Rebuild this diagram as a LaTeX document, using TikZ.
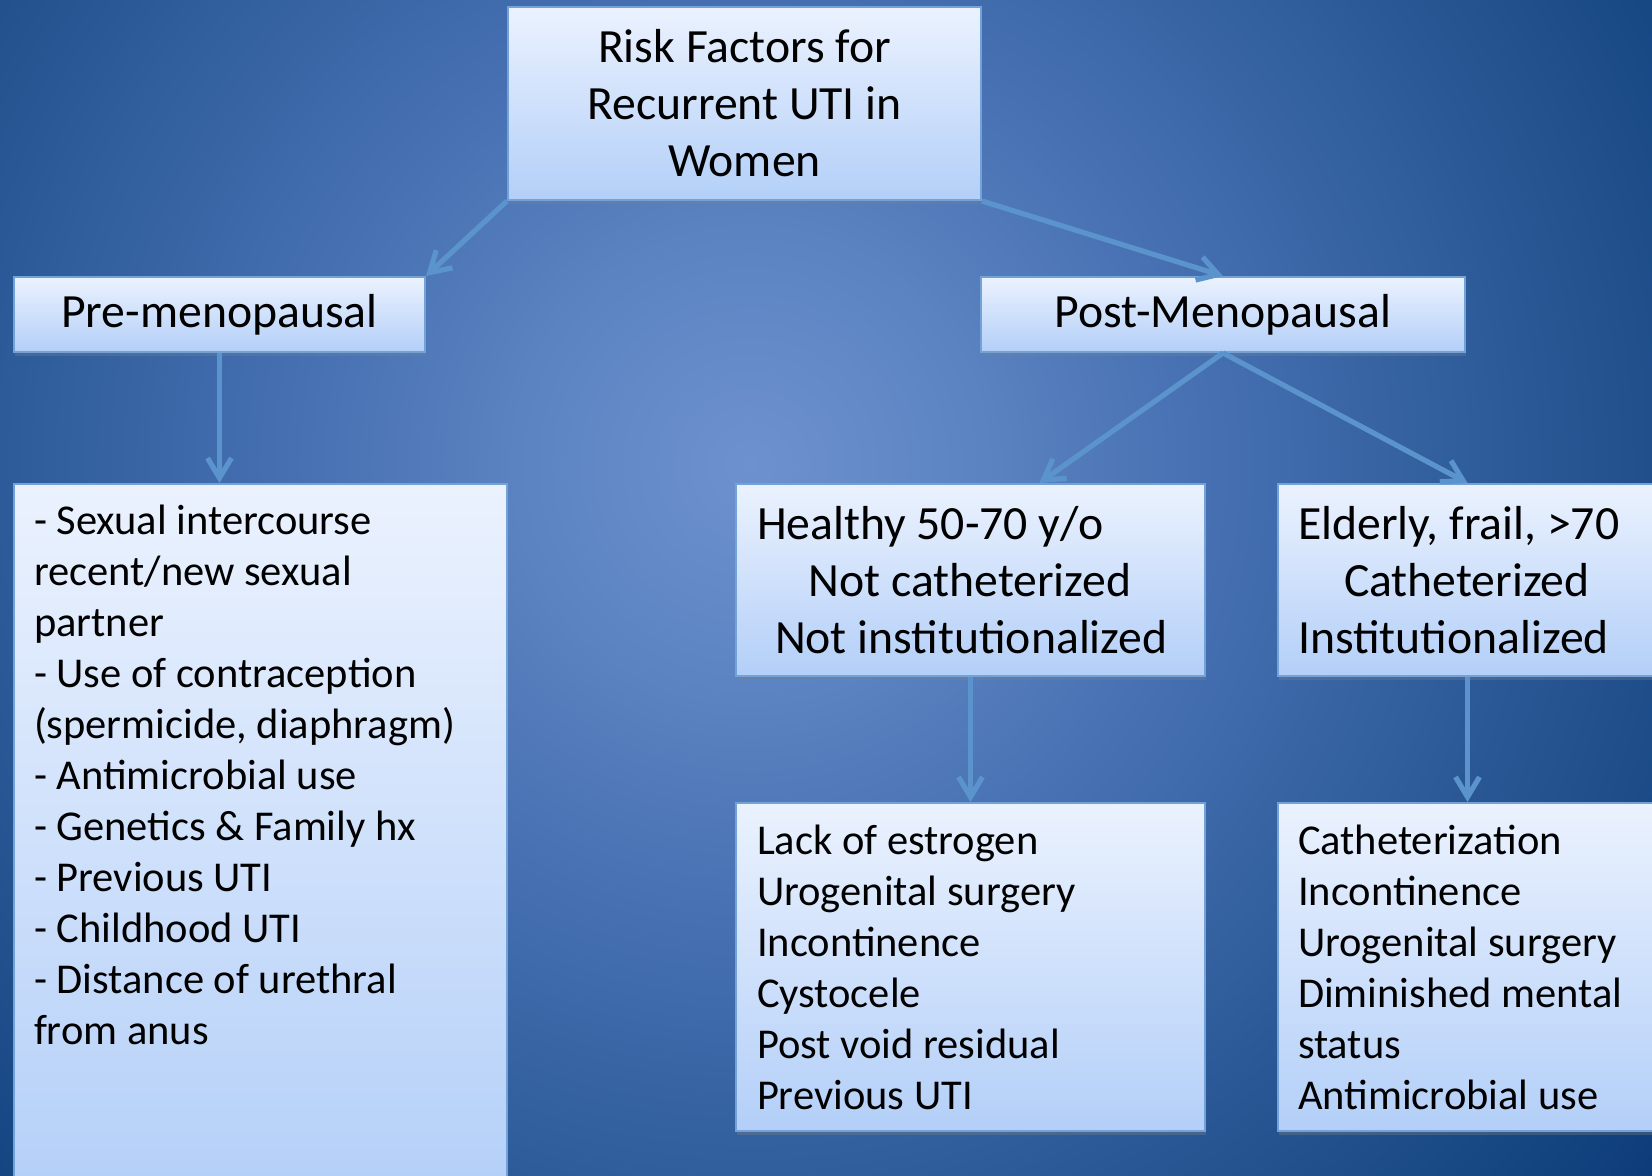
\documentclass[tikz,border=0pt]{standalone}
\usepackage{fontspec}
\setmainfont{Carlito}
\usetikzlibrary{arrows.meta,shadows,calc}
\definecolor{bgA}{HTML}{6D91CE}
\definecolor{bgB}{HTML}{5E85C3}
\definecolor{bgC}{HTML}{4670B2}
\definecolor{bgD}{HTML}{23528F}
\definecolor{bgE}{HTML}{12437F}
\definecolor{bgF}{HTML}{0A3676}
\definecolor{boxtop}{HTML}{EBF2FE}
\definecolor{boxbot}{HTML}{B3CFF8}
\definecolor{boxline}{HTML}{73A2D9}
\definecolor{arrcol}{HTML}{5B94CC}
\pgfdeclareradialshading{bgshade}{\pgfpoint{0bp}{0bp}}{color(0bp)=(bgA); color(4.25bp)=(bgB); color(9.5bp)=(bgC); color(18bp)=(bgD); color(22.25bp)=(bgE); color(25bp)=(bgF); color(50bp)=(bgF)}
\newcommand\BigTxt{\fontsize{23.85pt}{28.5pt}\selectfont}
\newcommand\MedTxt{\fontsize{21.25pt}{25.5pt}\selectfont}
\begin{document}
\begin{tikzpicture}[x=0.5pt,y=-0.5pt,
  box/.style={draw=boxline, line width=1pt, top color=boxtop, bottom color=boxbot,
    drop shadow={shadow xshift=0.6pt, shadow yshift=-1.8pt, opacity=0.35},
    inner sep=0pt, anchor=north west, text=black},
  conn/.style={draw=arrcol, line width=2.6pt, -{Straight Barb[length=10pt,width=12pt]}}]
\useasboundingbox (0,0) rectangle (1652,1175);
\begin{scope}
\clip (0,0) rectangle (1652,1175);
\shade[shading=bgshade] (750,465) circle (600pt);
\end{scope}

\node[box, minimum width=236.5pt, minimum height=96.5pt, align=center, font=\BigTxt] (top) at (507,6)
  {Risk Factors for\\Recurrent UTI in\\Women};
\node[box, minimum width=205.5pt, minimum height=37.5pt, font=\BigTxt] (pre) at (13,276) {Pre-menopausal};
\node[box, minimum width=242pt, minimum height=37.5pt, font=\BigTxt] (post) at (980,276) {Post-Menopausal};

\node[box, inner xsep=10pt, inner ysep=0pt, font=\MedTxt] (risks) at (13,483)
  {\parbox[t][360pt][t]{226.5pt}{\raggedright\rule{0pt}{25pt}- Sexual intercourse\\
   recent/new sexual\\ partner\\ - Use of contraception\\ (spermicide, diaphragm)\\
   - Antimicrobial use\\ - Genetics \& Family hx\\ - Previous UTI\\ - Childhood UTI\\
   - Distance of urethral\\ from anus}};

\node[box, inner xsep=10.5pt, minimum height=96pt, font=\BigTxt] (healthy) at (735,483)
  {\parbox{213.5pt}{\raggedright Healthy 50-70 y/o\\\hspace*{25.8pt}Not catheterized\\\hspace*{9pt}Not institutionalized}};
\node[box, inner xsep=10pt, minimum height=96pt, font=\BigTxt] (elderly) at (1277,483)
  {\parbox{169.5pt}{\raggedright\mbox{Elderly, frail, >70}\\\hspace*{23pt}Catheterized\\Institutionalized}};

\node[box, inner xsep=10.5pt, minimum height=164pt, font=\MedTxt] (lack) at (735,802)
  {\parbox{213.5pt}{\raggedright Lack of estrogen\\Urogenital surgery\\Incontinence\\Cystocele\\Post void residual\\Previous UTI}};
\node[box, inner xsep=10pt, minimum height=164pt, font=\MedTxt] (cath) at (1277,802)
  {\parbox{169.5pt}{\raggedright Catheterization\\Incontinence\\\mbox{Urogenital surgery}\\\mbox{Diminished mental}\\status\\\mbox{Antimicrobial use}}};

\draw[conn] (top.south west) -- (pre.north east);
\draw[conn] (top.south east) -- (post.north);
\draw[conn] (pre.south) -- (pre.south |- risks.north);
\draw[conn] (post.south) -- ($(healthy.north west)!0.646!(healthy.north east)$);
\draw[conn] (post.south) -- (elderly.north);
\draw[conn] (healthy.south) -- (lack.north);
\draw[conn] (elderly.south) -- (cath.north);
\end{tikzpicture}
\end{document}
